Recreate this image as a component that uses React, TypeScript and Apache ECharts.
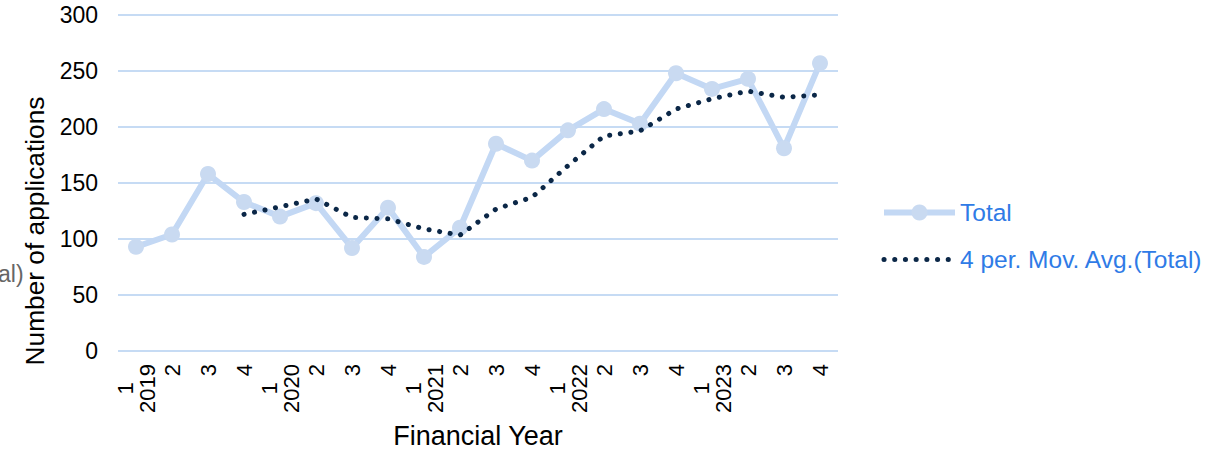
import React, { useEffect, useRef } from "react";
import * as echarts from "echarts";

const categories = [
  "1\n2019", "2", "3", "4",
  "1\n2020", "2", "3", "4",
  "1\n2021", "2", "3", "4",
  "1\n2022", "2", "3", "4",
  "1\n2023", "2", "3", "4",
];
const totalValues = [93, 104, 158, 133, 120, 132, 92, 128, 84, 110, 185, 170, 197, 216, 203, 248, 234, 243, 181, 257];
const movAvgValues: (number | string)[] = ["-", "-", "-", 122, 128.75, 135.75, 119.25, 118, 109, 103.5, 126.75, 137.25, 165.5, 192, 196.5, 216, 225.25, 232, 226.5, 228.75];
const yTicks = { min: 0, max: 300, interval: 50 };

const FONT = "'Liberation Sans', Arial, sans-serif";
const MA_NAME = "4 per. Mov. Avg.(Total)";
const TOTAL_COLOR = "#c3d8f4";
const MA_COLOR = "#0b2747";
const DOT = [0.1, 10.6];

export default function App() {
  const ref = useRef<HTMLDivElement>(null);
  useEffect(() => {
    if (!ref.current) return;
    const chart = echarts.init(ref.current, undefined, { renderer: "svg" });
    chart.setOption({
      animation: false,
      textStyle: { fontFamily: FONT },
      grid: { left: 118, right: 386, top: 15, bottom: 99, containLabel: false, outerBoundsMode: "none" },
      legend: {
        orient: "vertical",
        left: 881,
        top: 200,
        padding: 0,
        itemWidth: 71,
        itemHeight: 20,
        itemGap: 22,
        textStyle: { color: "#2f7be6", fontSize: 24.5, fontFamily: FONT },
        data: [
          { name: "Total", lineStyle: { width: 6, color: TOTAL_COLOR }, itemStyle: { color: "#c9daf1" } },
          {
            name: MA_NAME,
            lineStyle: { width: 5, color: MA_COLOR, type: DOT, cap: "round" },
            itemStyle: { color: "rgba(0,0,0,0)", opacity: 0 },
          },
        ],
      },
      xAxis: {
        type: "category",
        data: categories,
        boundaryGap: true,
        name: "Financial Year",
        nameLocation: "middle",
        nameGap: 71,
        nameTextStyle: { fontSize: 27, color: "#000", fontFamily: FONT, lineHeight: 28 },
        axisLine: { show: false },
        axisTick: { show: false },
        axisLabel: {
          interval: 0,
          rotate: 90,
          margin: 13,
          fontSize: 22,
          color: "#000",
          fontFamily: FONT,
          formatter: (v: string) => {
            const parts = v.split("\n");
            if (parts.length === 2) return `{c|${parts[0]}}\n{r|${parts[1]}}`;
            return `{r|${v}}`;
          },
          rich: {
            c: { align: "center", fontSize: 22, color: "#000", fontFamily: FONT },
            r: { fontSize: 22, color: "#000", fontFamily: FONT },
          },
        },
      },
      yAxis: {
        type: "value",
        min: yTicks.min,
        max: yTicks.max,
        interval: yTicks.interval,
        axisLine: { show: false },
        axisTick: { show: false },
        axisLabel: { fontSize: 23, color: "#000", margin: 20, fontFamily: FONT },
        splitLine: { lineStyle: { color: "#c6dbf4", width: 2 } },
      },
      series: [
        {
          name: "Total",
          type: "line",
          data: totalValues,
          symbol: "circle",
          symbolSize: 16,
          lineStyle: { color: TOTAL_COLOR, width: 6 },
          itemStyle: { color: "#c9daf1" },
          z: 2,
        },
        {
          name: MA_NAME,
          type: "line",
          data: movAvgValues,
          symbol: "none",
          lineStyle: { color: MA_COLOR, width: 5, type: DOT, cap: "round" },
          itemStyle: { color: MA_COLOR },
          z: 3,
        },
      ],
      graphic: [
        {
          type: "text",
          x: 35,
          y: 231,
          rotation: Math.PI / 2,
          style: {
            text: "Number of applications",
            fontSize: 26.3,
            fill: "#000",
            fontFamily: FONT,
            align: "center",
            verticalAlign: "middle",
          },
        },
        {
          type: "text",
          left: -2,
          top: 262,
          style: { text: "al)", fontSize: 23, fill: "#666", fontFamily: FONT },
        },
      ],
    });
    return () => chart.dispose();
  }, []);
  return <div ref={ref} style={{ width: 1224, height: 450, position: "absolute", left: 0, top: 0 }} />;
}
